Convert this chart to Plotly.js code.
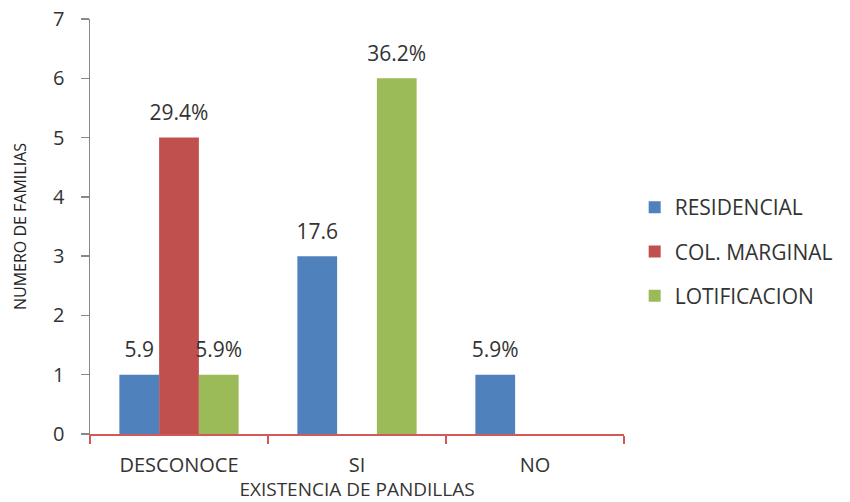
<!DOCTYPE html>
<html>
<head>
<meta charset="utf-8">
<script src="https://cdn.plot.ly/plotly-3.0.1.min.js"></script>
<style>html,body{margin:0;padding:0;background:#fff;}</style>
</head>
<body>
<div id="chart" style="width:850px;height:502px;"></div>
<script>
const categories = ["DESCONOCE", "SI", "NO"];
const seriesNames = ["RESIDENCIAL", "COL. MARGINAL", "LOTIFICACION"];
const residencial = [1, 3, 1];
const colMarginal = [5, 0, 0];
const lotificacion = [1, 6, 0];
const residencialLabels = ["5.9", "17.6", "5.9%"];
const colMarginalLabels = ["29.4%", "", ""];
const lotificacionLabels = ["5.9%", "36.2%", ""];
const yTicks = [0, 1, 2, 3, 4, 5, 6, 7];

const colors = ["#4F81BD", "#C0504D", "#9BBB59"];
const values = [residencial, colMarginal, lotificacion];
const labels = [residencialLabels, colMarginalLabels, lotificacionLabels];
const fontFam = "Open Sans, Noto Sans, sans-serif";

function fmt(s) {
  if (!s) return "";
  return "<span style='font-size:21px'>" + s + "</span><br><span style='font-size:1px'>&nbsp;</span>";
}

const traces = seriesNames.map((name, i) => ({
  type: "bar",
  name: name,
  x: categories,
  y: values[i],
  text: labels[i].map(fmt),
  textposition: "outside",
  constraintext: "none",
  cliponaxis: false,
  textfont: {size: 11, color: "#333", family: fontFam},
  marker: {color: colors[i]},
  legendgroup: "g" + i,
  hoverinfo: "x+y+name"
}));

const layout = {
  width: 850, height: 502,
  margin: {l: 90, r: 224, t: 19, b: 68},
  paper_bgcolor: "#fff", plot_bgcolor: "#fff",
  barmode: "group",
  bargap: 0.33,
  bargroupgap: 0,
  font: {family: fontFam, color: "#333"},
  xaxis: {
    type: "category",
    automargin: false,
    showline: true, linecolor: "#D05A5A", linewidth: 1.5,
    ticks: "outside", tickson: "boundaries", ticklen: 8, tickcolor: "#D05A5A", tickwidth: 1.5,
    tickfont: {size: 20, color: "#333", family: fontFam},
    ticklabelstandoff: 12,
    title: {text: "EXISTENCIA DE PANDILLAS", font: {size: 19, color: "#333", family: fontFam}, standoff: 4},
    showgrid: false, zeroline: false
  },
  yaxis: {
    range: [0, 7],
    automargin: false,
    tickvals: yTicks,
    showline: true, linecolor: "#888", linewidth: 1.5,
    ticks: "outside", ticklen: 8, tickcolor: "#888", tickwidth: 1.5,
    tickfont: {size: 20, color: "#333", family: fontFam},
    ticklabelstandoff: 12,
    title: {text: "NUMERO DE FAMILIAS", font: {size: 16, color: "#222", family: fontFam}, standoff: 22},
    showgrid: false, zeroline: false
  },
  showlegend: true,
  legend: {
    x: 1.02, xanchor: "left", y: 0.595, yanchor: "top",
    font: {size: 21, color: "#333", family: fontFam},
    traceorder: "grouped", tracegroupgap: 14,
    itemwidth: 30
  }
};

Plotly.newPlot("chart", traces, layout, {displayModeBar: false, staticPlot: true});
</script>
</body>
</html>
